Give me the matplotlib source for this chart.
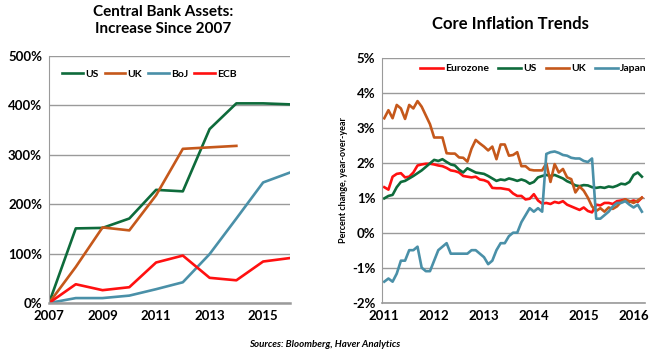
import matplotlib
matplotlib.use("Agg")
import matplotlib.pyplot as plt
from matplotlib.ticker import FuncFormatter

plt.rcParams['font.family'] = ['Lato', 'DejaVu Sans']
plt.rcParams['font.weight'] = 'bold'

# ---- Left chart data: Central bank assets, % increase since 2007 ----
years = [2007, 2008, 2009, 2010, 2011, 2012, 2013, 2014, 2015, 2016]
us_assets = [0, 151, 152, 171, 229, 226, 352, 404, 404, 402]
uk_assets = [0, 73, 153, 147, 218, 312, 315, 318]
boj_assets = [0, 10, 10, 15, 28, 42, 99, 171, 244, 264]
ecb_assets = [0, 38, 26, 32, 82, 96, 51, 46, 84, 91]
left_xticks = [2007, 2009, 2011, 2013, 2015]
left_yticks = [0, 100, 200, 300, 400, 500]

# ---- Right chart data: core inflation, monthly Jan 2011 - Mar 2016 ----
months = list(range(63))
year_ticks = [0, 12, 24, 36, 48, 60]
year_labels = ['2011', '2012', '2013', '2014', '2015', '2016']
eurozone = [1.30, 1.23, 1.60, 1.68, 1.70, 1.58, 1.60, 1.72, 1.92, 1.95, 1.97, 1.97,
            1.95, 1.92, 1.90, 1.85, 1.78, 1.76, 1.72, 1.62, 1.60, 1.58, 1.60, 1.52,
            1.50, 1.45, 1.28, 1.27, 1.27, 1.25, 1.23, 1.12, 1.05, 1.05, 0.95, 0.97,
            1.10, 0.92, 0.83, 0.85, 0.82, 0.88, 0.85, 0.90, 0.80, 0.75, 0.70, 0.65,
            0.72, 0.62, 0.58, 0.80, 0.78, 0.85, 0.85, 0.82, 0.90, 0.92, 0.95, 0.88,
            0.92, 0.88, 1.00]
us_infl = [0.98, 1.05, 1.08, 1.30, 1.45, 1.48, 1.55, 1.62, 1.70, 1.78, 1.88, 1.98,
           2.08, 2.05, 2.10, 2.02, 1.95, 1.92, 1.80, 1.72, 1.84, 1.78, 1.72, 1.70,
           1.68, 1.62, 1.55, 1.48, 1.52, 1.50, 1.55, 1.52, 1.48, 1.52, 1.48, 1.40,
           1.45, 1.58, 1.62, 1.65, 1.62, 1.65, 1.60, 1.55, 1.47, 1.42, 1.35, 1.33,
           1.36, 1.35, 1.30, 1.28, 1.30, 1.28, 1.32, 1.30, 1.34, 1.40, 1.38, 1.45,
           1.65, 1.72, 1.60]
uk_infl = [3.27, 3.50, 3.27, 3.65, 3.55, 3.25, 3.65, 3.55, 3.76, 3.60, 3.35, 3.10,
           2.72, 2.72, 2.72, 2.27, 2.26, 2.26, 2.15, 2.14, 2.03, 2.40, 2.65, 2.55,
           2.46, 2.35, 2.46, 2.10, 2.52, 2.52, 2.20, 2.22, 2.30, 1.90, 1.90, 1.80,
           1.78, 1.78, 1.78, 1.98, 1.45, 1.96, 1.72, 1.82, 1.58, 1.53, 1.15, 1.32,
           1.20, 1.00, 0.75, 0.62, 0.70, 0.60, 0.72, 0.68, 0.75, 0.88, 0.95, 0.90,
           0.85, 0.92, 1.00]
japan_infl = [-1.40, -1.31, -1.40, -1.17, -0.80, -0.80, -0.50, -0.50, -0.40, -1.00, -1.10, -1.10,
              -0.80, -0.50, -0.40, -0.30, -0.60, -0.60, -0.60, -0.60, -0.60, -0.50, -0.50, -0.60,
              -0.70, -0.90, -0.80, -0.50, -0.30, -0.30, -0.10, 0.00, 0.00, 0.30, 0.50, 0.70,
              0.60, 0.70, 0.60, 2.25, 2.30, 2.32, 2.28, 2.22, 2.20, 2.14, 2.12, 2.12,
              2.05, 2.02, 2.12, 0.40, 0.40, 0.50, 0.60, 0.75, 0.85, 0.85, 0.90, 0.80,
              0.72, 0.80, 0.60]
right_yticks = [-2, -1, 0, 1, 2, 3, 4, 5]

GREEN = '#0E6B3B'
ORANGE = '#C5581B'
BLUE = '#4A90A8'
RED = '#FF1010'
GRID = '#9A9A9A'
LW = 1.9

fig = plt.figure(figsize=(6.5, 3.54), dpi=100)

# ---------- Left ----------
ax1 = fig.add_axes([0.0754, 0.144, 0.3706, 0.698])
ax1.plot(years, us_assets, color=GREEN, lw=LW, label='US')
ax1.plot(years[:len(uk_assets)], uk_assets, color=ORANGE, lw=LW, label='UK')
ax1.plot(years, boj_assets, color=BLUE, lw=LW, label='BoJ')
ax1.plot(years, ecb_assets, color=RED, lw=LW, label='ECB')
ax1.set_xlim(2007, 2016)
ax1.set_ylim(0, 500)
ax1.set_yticks(left_yticks)
ax1.yaxis.set_major_formatter(FuncFormatter(lambda v, p: f'{int(v)}%'))
ax1.set_xticks(left_xticks)
ax1.grid(axis='y', color=GRID, lw=1.0)
ax1.set_axisbelow(True)
for s in ['top', 'right']:
    ax1.spines[s].set_visible(False)
ax1.spines['left'].set_color(GRID)
ax1.spines['bottom'].set_color(GRID)
ax1.spines['bottom'].set_linewidth(1.8)
ax1.tick_params(length=0, labelsize=9.5, pad=5)
for lab in ax1.get_xticklabels() + ax1.get_yticklabels():
    lab.set_fontweight('bold')
ax1.legend(loc='upper left', bbox_to_anchor=(0.03, 0.97), ncol=4, frameon=False,
           prop={'weight': 'bold', 'size': 7.5}, handlelength=2.0,
           handletextpad=0.2, columnspacing=0.55, borderaxespad=0.2)
fig.text(0.251, 0.985, 'Central Bank Assets:\nIncrease Since 2007', ha='center', va='top',
         fontsize=11, fontweight='bold', linespacing=1.25)

# ---------- Right ----------
ax2 = fig.add_axes([0.588, 0.145, 0.404, 0.692])
ax2.plot(months, eurozone, color=RED, lw=LW, label='Eurozone')
ax2.plot(months, us_infl, color=GREEN, lw=LW, label='US')
ax2.plot(months, uk_infl, color=ORANGE, lw=LW, label='UK')
ax2.plot(months, japan_infl, color=BLUE, lw=LW, label='Japan')
ax2.set_xlim(-0.5, 62.7)
ax2.set_ylim(-2, 5)
ax2.set_yticks(right_yticks)
ax2.yaxis.set_major_formatter(FuncFormatter(lambda v, p: f'{int(v)}%'))
ax2.set_xticks(year_ticks)
ax2.set_xticklabels(year_labels)
ax2.grid(axis='y', color=GRID, lw=1.0)
ax2.set_axisbelow(True)
for s in ['top', 'right']:
    ax2.spines[s].set_visible(False)
ax2.spines['left'].set_color(GRID)
ax2.spines['bottom'].set_color(GRID)
ax2.spines['bottom'].set_linewidth(1.2)
ax2.tick_params(length=0, labelsize=9.5, pad=5)
for lab in ax2.get_xticklabels() + ax2.get_yticklabels():
    lab.set_fontweight('bold')
ax2.set_ylabel('Percent change, year-over-year', fontsize=6.5, fontweight='bold', labelpad=3)
ax2.legend(loc='upper left', bbox_to_anchor=(0.12, 1.0), ncol=4, frameon=False,
           prop={'weight': 'bold', 'size': 7.5}, handlelength=2.2,
           handletextpad=0.2, columnspacing=0.9, borderaxespad=0.2)
fig.text(0.785, 0.955, 'Core Inflation Trends', ha='center', va='top',
         fontsize=12, fontweight='bold')

fig.text(0.5, 0.015, 'Sources: Bloomberg, Haver Analytics', ha='center', va='bottom',
         fontsize=7, fontweight='bold', fontstyle='italic')

fig.savefig('out.png', dpi=100)
